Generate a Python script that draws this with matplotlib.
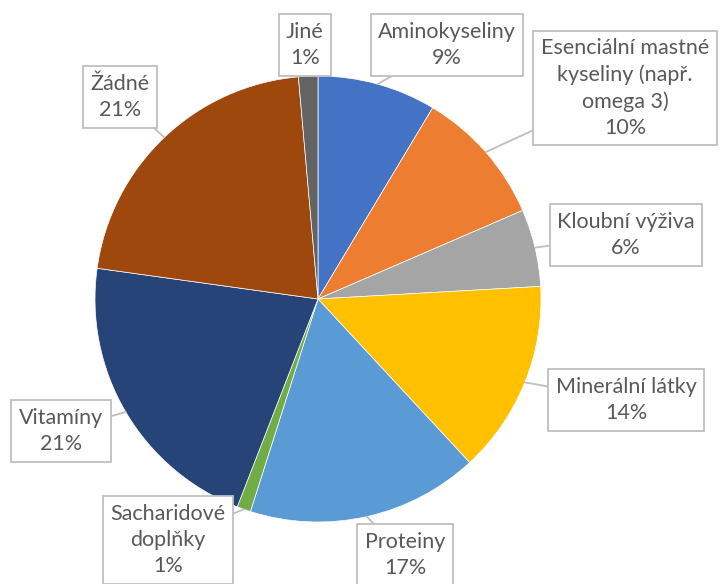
import matplotlib.pyplot as plt
import numpy as np

labels = ["Aminokyseliny", "Esenciální mastné\nkyseliny (např.\nomega 3)", "Kloubní výživa",
          "Minerální látky", "Proteiny", "Sacharidové\ndoplňky", "Vitamíny", "Žádné", "Jiné"]
values = [8.6, 9.9, 5.6, 14.0, 16.8, 1.0, 21.3, 21.4, 1.4]
colors = ["#4472C4", "#ED7D31", "#A5A5A5", "#FFC000", "#5B9BD5",
          "#70AD47", "#264478", "#9E480E", "#636363"]
# label box centres in pixels (from top-left)
label_pos = [(447, 45), (625, 88), (626, 235), (626, 400), (405, 555),
             (168, 540), (61, 431), (120, 97), (305, 45)]

W, H = 721, 584
fig = plt.figure(figsize=(W / 100, H / 100), dpi=100)
ax = fig.add_axes([0, 0, 1, 1])

cx, cy, r = 318, H - 299, 223
wedges, _ = ax.pie(values, colors=colors, startangle=90, counterclock=False,
                   center=(cx, cy), radius=r, frame=True,
                   wedgeprops=dict(edgecolor="white", linewidth=0.5))
ax.set_xlim(0, W)
ax.set_ylim(0, H)
ax.set_aspect("equal")
ax.axis("off")

for w, lab, v, (lx, ly) in zip(wedges, labels, values, label_pos):
    ang = np.deg2rad((w.theta1 + w.theta2) / 2)
    px, py = cx + r * np.cos(ang), cy + r * np.sin(ang)
    ax.annotate(f"{lab}\n{v:.0f}%", xy=(px, py), xytext=(lx, H - ly),
                ha="center", va="center", fontsize=15.5, color="#595959",
                family="Lato", linespacing=1.38,
                bbox=dict(boxstyle="square,pad=0.35", fc="white", ec="#BFBFBF", lw=1.3),
                arrowprops=dict(arrowstyle="-", color="#BFBFBF", lw=1.3,
                                shrinkA=0, shrinkB=0))

fig.savefig("out.png", dpi=100)
